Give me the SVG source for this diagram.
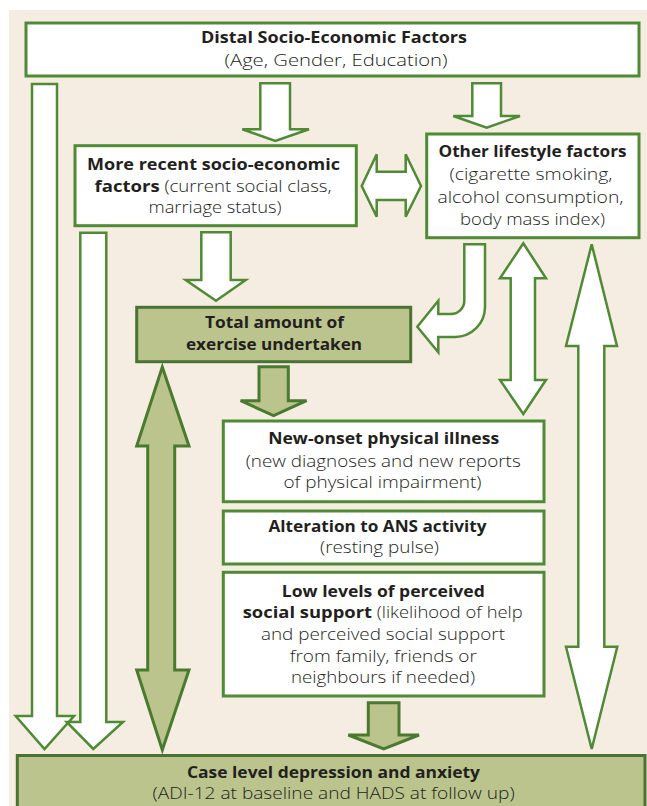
<svg xmlns="http://www.w3.org/2000/svg" width="647" height="806" viewBox="0 0 647 806">
<style>
.bg{fill:#f5ede1}
.box{fill:#ffffff;stroke:#4f8a34;stroke-width:3}
.gbox{fill:#bac48c;stroke:#4a7232;stroke-width:3}
.wa{fill:#ffffff;stroke:#4f8a34;stroke-width:2.5;stroke-linejoin:miter}
.ga{fill:#bac48c;stroke:#4a7a30;stroke-width:3;stroke-linejoin:miter}
text{font-family:"Open Sans","Liberation Sans",sans-serif;font-size:16px;fill:#231f20;text-anchor:middle}
.b{font-weight:700;font-size:16px}
.r{font-weight:300;font-size:16px}
</style>
<rect x="0" y="0" width="647" height="806" fill="#ffffff"/>
<rect class="bg" x="9" y="10" width="638" height="796"/>

<g id="connectors">
  <polygon id="c-distal-case-a" class="wa" points="32,84 57,84 57,716 74,716 44.5,749 15.7,716 32,716"/>
  <polygon id="c-recent-case" class="wa" points="80.3,232.7 106.3,232.7 106.3,722 123,722 93.3,749 66.7,722 80.3,722"/>
  <polygon id="c-distal-recent" class="wa" points="260.3,83.3 290,83.3 290,129.3 309,129.3 275.3,141 242.3,129.3 260.3,129.3"/>
  <polygon id="c-distal-other" class="wa" points="472.3,83.3 501,83.3 501,116 520,116 486.7,127.7 453.3,116 472.3,116"/>
  <polygon id="c-recent-other" class="wa" points="361.7,186 376.7,154.3 376.7,171.7 405.7,171.7 405.7,154.3 421,186 405.7,216.7 405.7,200 376.7,200 376.7,216.7"/>
  <polygon id="c-recent-total" class="wa" points="201.3,232.3 230.7,232.3 230.7,280 245.7,280 216,300.7 185.7,280 201.3,280"/>
  <path id="c-other-total" class="wa" d="M464.3,244.3 L485,244.3 L485,307 A30,30 0 0 1 455,337 L438.3,337 L438.3,352.3 L417.3,326.7 L438.3,300.7 L438.3,314 L451,314 A13.3,13.3 0 0 0 464.3,300.7 Z"/>
  <polygon id="c-other-illness" class="wa" points="523.3,243.3 546,278.3 535,278.3 535,380 546,380 523.3,414 500,380 510.7,380 510.7,278.3 500,278.3"/>
  <polygon id="c-other-case" class="wa" points="591.7,244.3 617,346 604.3,346 604.3,646.7 617.3,646.7 591.7,749 566,646.7 578.3,646.7 578.3,346 566,346"/>
  <polygon id="c-total-illness" class="ga" points="259,366.7 288.3,366.7 288.3,400.7 306.6,400.7 273.6,415.7 240.6,400.7 259,400.7"/>
  <polygon id="c-total-case" class="ga" points="162.3,367 189,446 174.7,446 174.7,670 189,670 162.3,750 136.7,670 147.7,670 147.7,446 136.7,446"/>
  <polygon id="c-support-case" class="ga" points="368.3,702.7 399,702.7 399,735 419,735 383.7,749 348.3,735 368.3,735"/>
</g>

<g id="distal">
  <rect class="box" x="26" y="23" width="613" height="53"/>
  <text class="b" x="334" y="43" textLength="266" lengthAdjust="spacingAndGlyphs">Distal Socio-Economic Factors</text>
  <text class="r" x="336" y="66" textLength="223" lengthAdjust="spacingAndGlyphs">(Age, Gender, Education)</text>
</g>

<g id="recent">
  <rect class="box" x="75" y="145.7" width="281.3" height="80"/>
  <text class="b" x="213.5" y="170" textLength="253" lengthAdjust="spacingAndGlyphs">More recent socio-economic</text>
  <text x="213" y="191.7" textLength="237" lengthAdjust="spacingAndGlyphs"><tspan class="b">factors</tspan><tspan class="r"> (current social class,</tspan></text>
  <text class="r" x="215" y="213.3" textLength="133" lengthAdjust="spacingAndGlyphs">marriage status)</text>
</g>

<g id="other">
  <rect class="box" x="426.7" y="134" width="212.3" height="103.7"/>
  <text class="b" x="532.5" y="157.3" textLength="188" lengthAdjust="spacingAndGlyphs">Other lifestyle factors</text>
  <text class="r" x="531" y="180" textLength="163" lengthAdjust="spacingAndGlyphs">(cigarette smoking,</text>
  <text class="r" x="530.5" y="202.6" textLength="186" lengthAdjust="spacingAndGlyphs">alcohol consumption,</text>
  <text class="r" x="532.5" y="225" textLength="145" lengthAdjust="spacingAndGlyphs">body mass index)</text>
</g>

<g id="total">
  <rect class="gbox" x="136.7" y="307.3" width="274" height="54.4"/>
  <text class="b" x="274.5" y="327.7" textLength="139" lengthAdjust="spacingAndGlyphs">Total amount of</text>
  <text class="b" x="274" y="350" textLength="176" lengthAdjust="spacingAndGlyphs">exercise undertaken</text>
</g>

<g id="illness">
  <rect class="box" x="223.3" y="421" width="320.7" height="80.7"/>
  <text class="b" x="383.7" y="444.3" textLength="231" lengthAdjust="spacingAndGlyphs">New-onset physical illness</text>
  <text class="r" x="383.2" y="466.7" textLength="275" lengthAdjust="spacingAndGlyphs">(new diagnoses and new reports</text>
  <text class="r" x="382.5" y="488.3" textLength="198" lengthAdjust="spacingAndGlyphs">of physical impairment)</text>
</g>

<g id="ans">
  <rect class="box" x="223.3" y="511" width="320.7" height="53"/>
  <text class="b" x="377.5" y="531.7" textLength="218" lengthAdjust="spacingAndGlyphs">Alteration to ANS activity</text>
  <text class="r" x="379.5" y="553.3" textLength="119" lengthAdjust="spacingAndGlyphs">(resting pulse)</text>
</g>

<g id="support">
  <rect class="box" x="223.3" y="572.3" width="320.7" height="123.7"/>
  <text class="b" x="383.3" y="596.7" textLength="203" lengthAdjust="spacingAndGlyphs">Low levels of perceived</text>
  <text x="382.7" y="618.3" textLength="280" lengthAdjust="spacingAndGlyphs"><tspan class="b">social support</tspan><tspan class="r"> (likelihood of help</tspan></text>
  <text class="r" x="383" y="640" textLength="244" lengthAdjust="spacingAndGlyphs">and perceived social support</text>
  <text class="r" x="383.3" y="661.7" textLength="187" lengthAdjust="spacingAndGlyphs">from family, friends or</text>
  <text class="r" x="383" y="683.3" textLength="184" lengthAdjust="spacingAndGlyphs">neighbours if needed)</text>
</g>

<g id="case">
  <rect class="gbox" x="17.3" y="755.5" width="627.7" height="70"/>
  <text class="b" x="333.5" y="777.7" textLength="293" lengthAdjust="spacingAndGlyphs">Case level depression and anxiety</text>
  <text class="r" x="333.6" y="799.3" textLength="362" lengthAdjust="spacingAndGlyphs">(ADI-12 at baseline and HADS at follow up)</text>
</g>
</svg>
